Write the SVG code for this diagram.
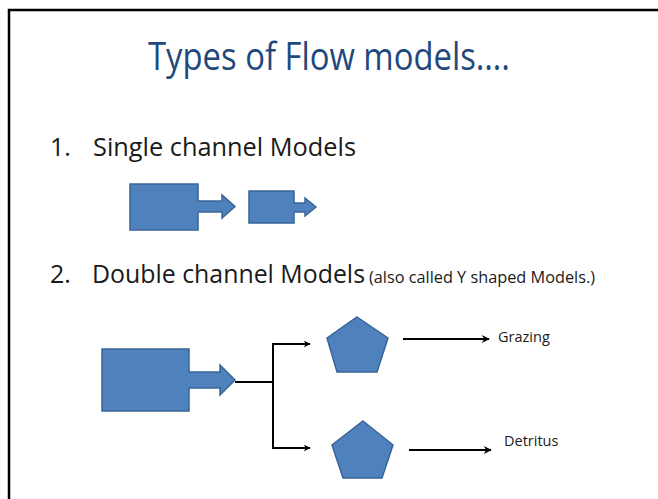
<svg xmlns="http://www.w3.org/2000/svg" width="658" height="499" viewBox="0 0 658 499">
<style>
.shape{fill:#4F81BD;stroke:#3A6596;stroke-width:1.5}
.txt{font-family:"Open Sans","Liberation Sans",sans-serif;fill:#1a1a1a}
.title{font-family:"Open Sans","Liberation Sans",sans-serif;fill:#1F497D}
.conn{fill:none;stroke:#000;stroke-width:2}
</style>
<defs>
<marker id="ah" viewBox="0 0 10 10" refX="9" refY="5" markerWidth="7" markerHeight="7" orient="auto" markerUnits="userSpaceOnUse">
<path d="M0,0 L10,5 L0,10 L3,5 z" fill="#000"/>
</marker>
<marker id="ah2" viewBox="0 0 10 10" refX="9" refY="5" markerWidth="9" markerHeight="8" orient="auto" markerUnits="userSpaceOnUse">
<path d="M0,0 L10,5 L0,10 L3,5 z" fill="#000"/>
</marker>
</defs>
<rect width="658" height="499" fill="#fff"/>
<path d="M9,499 V10 H658" fill="none" stroke="#000" stroke-width="2.5"/>
<text class="title" x="148" y="70" font-size="38" textLength="362" lengthAdjust="spacingAndGlyphs">Types of Flow models….</text>
<g id="item1">
<text class="txt" x="50" y="156" font-size="25">1.</text>
<text class="txt" x="93" y="156" font-size="25" textLength="263" lengthAdjust="spacingAndGlyphs">Single channel Models</text>
</g>
<g id="single-big">
<path class="shape" d="M130,184 H198 V201 H222 V195 L235,206.5 L222,218 V212 H198 V230 H130 Z"/>
</g>
<g id="single-small">
<path class="shape" d="M249,191 H294 V203 H305 V198 L316,207 L305,216 V212 H294 V223 H249 Z"/>
</g>
<g id="item2">
<text class="txt" x="50" y="283" font-size="25">2.</text>
<text class="txt" x="92" y="283" font-size="25" textLength="273" lengthAdjust="spacingAndGlyphs">Double channel Models</text>
<text class="txt" x="369" y="283" font-size="15.5" textLength="226" lengthAdjust="spacingAndGlyphs">(also called Y shaped Models.)</text>
</g>
<g id="double-big">
<path class="shape" d="M102,349 H189 V372 H220 V365 L235,380 L220,395 V388 H189 V411 H102 Z"/>
</g>
<g id="pent-top">
<polygon class="shape" points="357,317 388,338 377,372 337,372 327,338"/>
</g>
<g id="pent-bottom">
<polygon class="shape" points="363,421 393,445 382,478 343,478 332,445"/>
</g>
<g id="connectors">
<path class="conn" d="M235,382 H273"/>
<path class="conn" d="M273,344 V448"/>
<path class="conn" d="M272,344 H310" marker-end="url(#ah)"/>
<path class="conn" d="M272,448 H310" marker-end="url(#ah)"/>
<path class="conn" d="M403,339 H489" stroke-width="1.5" marker-end="url(#ah2)"/>
<path class="conn" d="M409,450 H491" stroke-width="1.5" marker-end="url(#ah2)"/>
</g>
<g id="label-grazing">
<text class="txt" x="498" y="342" font-size="14.5">Grazing</text>
</g>
<g id="label-detritus">
<text class="txt" x="504" y="446" font-size="14.5">Detritus</text>
</g>
</svg>
